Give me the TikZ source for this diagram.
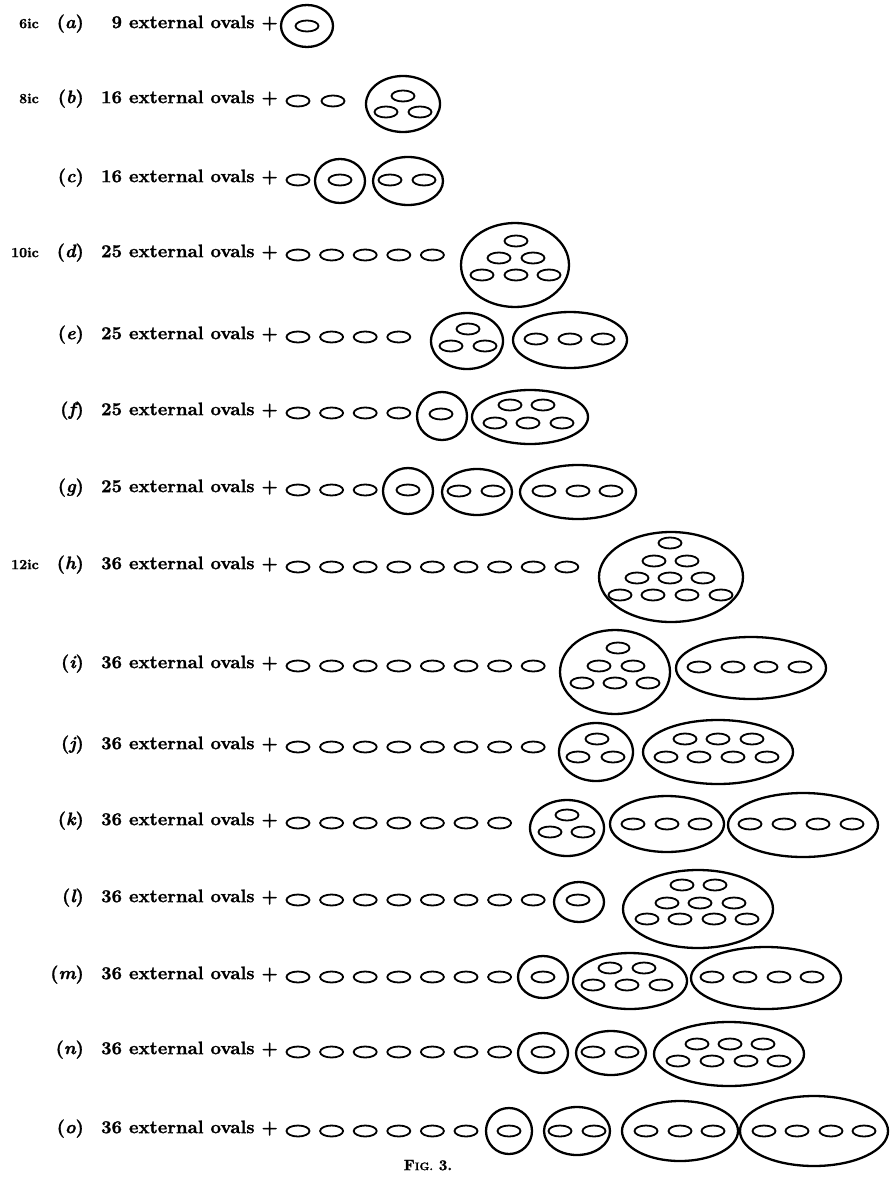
\documentclass[tikz,border=0pt]{standalone}
\usepackage{fontspec}
\newfontfamily\heavy[FakeBold=1.2]{lmroman10-bold.otf}
\newfontfamily\heavyit[FakeBold=1.2]{lmroman10-bolditalic.otf}
\newcommand\sov[2]{\draw[so] ({#1},{#2}) ellipse [x radius=11.5, y radius=5.5];}
\newcommand\bov[4]{\draw[bo] ({#1},{#2}) ellipse [x radius=#3, y radius=#4];}
\newcommand\srow[2]{\foreach \k in {1,...,#1} {\sov{298+33.6*(\k-1)}{#2}}}
\begin{document}
\begin{tikzpicture}[x=1pt,y=-1pt,
  so/.style={line width=1.8pt},
  bo/.style={line width=2.3pt},
  txt/.style={anchor=mid east, inner sep=0pt, font=\heavy\fontsize{18.2}{20}\selectfont},
  lab/.style={anchor=mid east, inner sep=0pt, font=\heavy\fontsize{18.2}{20}\selectfont},
  ic/.style={anchor=mid east, inner sep=0pt, font=\heavy\fontsize{14}{16}\selectfont}]
\useasboundingbox (0,0) rectangle (891,1182);
% left labels
\node[ic] (ia) at (39,26) {6ic};
\node[ic] (ib) at (39,101) {8ic};
\node[ic] (id) at (39,255) {10ic};
\node[ic] (ih) at (39,567) {12ic};
% row labels and texts
\foreach \n/\l/\y/\c in {a/a/26/9, b/b/101/16, c/c/180/16, d/d/255/25, e/e/337/25, f/f/413/25, g/g/490/25,
  h/h/567/36, i/i/666/36, j/j/747/36, k/k/823/36, l/l/900/36, m/m/977/36, n/n/1052/36, o/o/1131/36} {
  \node[lab] (l\n) at (84,\y) {({\heavyit\l})};
  \node[txt] (t\n) at (278,\y) {\c\ external ovals +};
}
% row a
\bov{307}{26}{26}{21} \sov{307}{26}
% row b
\sov{298}{101} \sov{333}{101}
\bov{403}{104}{37}{28} \sov{403}{96} \sov{386}{112} \sov{420}{112}
% row c
\sov{298}{180}
\bov{340}{181}{25}{22} \sov{340}{180}
\bov{408}{181}{35}{24} \sov{390}{180} \sov{424}{180}
% row d
\srow{5}{255}
\bov{515}{265}{54}{42} \sov{516}{241} \sov{499}{258} \sov{533}{258} \sov{482}{275} \sov{516}{275} \sov{549}{275}
% row e
\srow{4}{337}
\bov{467}{341}{36}{28} \sov{468}{329} \sov{451}{346} \sov{485}{346}
\bov{570}{340}{57}{28} \sov{536}{339} \sov{570}{339} \sov{603}{339}
% row f
\srow{4}{413}
\bov{442}{416}{25}{24} \sov{441}{414}
\bov{530}{417}{58}{27} \sov{510}{405} \sov{543}{405} \sov{495}{423} \sov{528}{423} \sov{562}{423}
% row g
\srow{3}{490}
\bov{408}{491}{25}{23} \sov{408}{490}
\bov{477}{492}{35}{23} \sov{459}{491} \sov{493}{491}
\bov{578}{492}{58}{27} \sov{544}{491} \sov{578}{491} \sov{611}{491}
% row h
\srow{9}{567}
\bov{671}{577}{72}{45} \sov{670}{543} \sov{654}{561} \sov{687}{561}
\sov{637}{578} \sov{670}{578} \sov{703}{578}
\sov{620}{595} \sov{653}{595} \sov{687}{595} \sov{721}{595}
% row i
\srow{8}{666}
\bov{615}{672}{55}{42} \sov{618}{648} \sov{599}{666} \sov{633}{666} \sov{582}{683} \sov{615}{683} \sov{648}{683}
\bov{751}{668}{75}{31} \sov{699}{667} \sov{733}{667} \sov{766}{667} \sov{800}{667}
% row j
\srow{8}{747}
\bov{596}{752}{37}{29} \sov{597}{739} \sov{578}{757} \sov{613}{757}
\bov{718}{752}{75}{32} \sov{685}{739} \sov{718}{739} \sov{752}{739}
\sov{666}{757} \sov{699}{757} \sov{733}{757} \sov{767}{757}
% row k
\srow{7}{823}
\bov{567}{828}{37}{28} \sov{567}{815} \sov{550}{832} \sov{583}{832}
\bov{667}{824}{57}{28} \sov{633}{824} \sov{667}{824} \sov{700}{824}
\bov{803}{825}{75}{32} \sov{750}{824} \sov{784}{824} \sov{818}{824} \sov{852}{824}
% row l
\srow{8}{900}
\bov{579}{902}{25}{20} \sov{578}{900}
\bov{698}{909}{75}{39} \sov{682}{885} \sov{715}{885}
\sov{667}{903} \sov{700}{903} \sov{734}{903}
\sov{647}{919} \sov{680}{919} \sov{714}{919} \sov{747}{919}
% row m
\srow{7}{977}
\bov{543}{977}{25}{21} \sov{543}{977}
\bov{630}{981}{57}{28} \sov{610}{968} \sov{644}{968} \sov{593}{985} \sov{627}{985} \sov{661}{985}
\bov{766}{978}{75}{31} \sov{712}{977} \sov{745}{977} \sov{779}{977} \sov{812}{977}
% row n
\srow{7}{1052}
\bov{543}{1053}{25}{20} \sov{543}{1052}
\bov{611}{1053}{35}{22} \sov{593}{1052} \sov{627}{1052}
\bov{729}{1054}{75}{32} \sov{697}{1044} \sov{730}{1044} \sov{763}{1044}
\sov{678}{1061} \sov{712}{1061} \sov{746}{1061} \sov{779}{1061}
% row o
\srow{6}{1131}
\bov{509}{1131}{23}{23} \sov{509}{1131}
\bov{577}{1131}{33}{24} \sov{560}{1131} \sov{594}{1131}
\bov{680}{1131}{58}{30} \sov{646}{1131} \sov{680}{1131} \sov{713}{1131}
\bov{814}{1131}{74}{35} \sov{764}{1131} \sov{797}{1131} \sov{831}{1131} \sov{864}{1131}
% caption
\node[inner sep=0pt, anchor=mid] (cap) at (428,1168) {\heavy\fontsize{15}{17}\selectfont F\fontsize{11}{13}\selectfont IG.\fontsize{15}{17}\selectfont\ 3.};
\end{tikzpicture}
\end{document}
